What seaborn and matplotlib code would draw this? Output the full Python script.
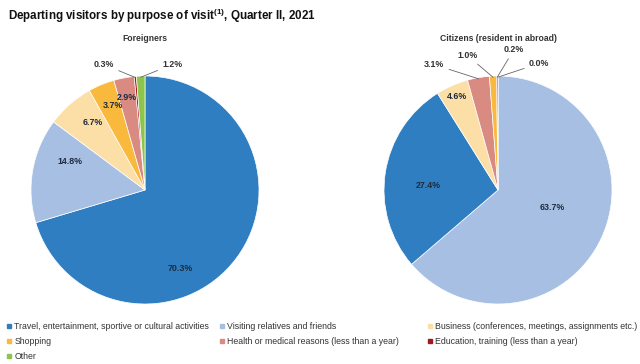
import numpy as np
import matplotlib
matplotlib.use("Agg")
import matplotlib.pyplot as plt
import seaborn as sns
from matplotlib.lines import Line2D

# Datos
categorias = [
    "Travel, entertainment, sportive or cultural activities",
    "Visiting relatives and friends",
    "Business (conferences, meetings, assignments etc.)",
    "Shopping",
    "Health or medical reasons (less than a year)",
    "Education, training (less than a year)",
    "Other",
]
colores = ["#2F7EC1", "#A7BFE3", "#FCDFA6", "#F8B93C", "#DA8B81", "#A0191E", "#8DC44B"]

# Foreigners: orden horario desde arriba
extranjeros = [70.3, 14.8, 6.7, 3.7, 2.9, 0.3, 1.2]
orden_extranjeros = [0, 1, 2, 3, 4, 5, 6]

# Citizens: orden horario desde arriba
ciudadanos = [63.7, 27.4, 4.6, 3.1, 1.0, 0.2, 0.0]
orden_ciudadanos = [1, 0, 2, 4, 3, 5, 6]

# Posiciones de etiquetas (unidades del radio) y si llevan linea guia
pos_extranjeros = [(0.31, -0.69), (-0.66, 0.25), (-0.46, 0.59), (-0.28, 0.74),
                   (-0.16, 0.81), (-0.27, 1.10), (0.15, 1.10)]
guia_extranjeros = [False, False, False, False, False, True, True]
pos_ciudadanos = [(0.48, -0.15), (-0.61, 0.04), (-0.36, 0.82), (-0.47, 1.10),
                  (-0.18, 1.18), (0.05, 1.23), (0.27, 1.11)]
guia_ciudadanos = [False, False, False, True, True, True, True]

sns.set_theme(style="white")
plt.rcParams["font.family"] = ["Liberation Sans", "DejaVu Sans"]
plt.rcParams["mathtext.fontset"] = "custom"
plt.rcParams["mathtext.rm"] = "Liberation Sans"
plt.rcParams["mathtext.bf"] = "Liberation Sans:bold"

fig = plt.figure(figsize=(6.4, 3.64), dpi=100)
fig.patch.set_facecolor("white")


def dibujar_pie(rect, valores, orden, posiciones, guias, titulo):
    ax = fig.add_axes(rect)
    cols = [colores[i] for i in orden]
    cunas, _ = ax.pie(valores, colors=cols, startangle=90, counterclock=False,
                      wedgeprops=dict(edgecolor="white", linewidth=0.5))
    ax.set_xlim(-1, 1)
    ax.set_ylim(-1, 1)
    ax.set_aspect("equal")
    for cuna, v, (x, y), g in zip(cunas, valores, posiciones, guias):
        texto = f"{v:.1f}%"
        if g:
            ang = np.deg2rad((cuna.theta1 + cuna.theta2) / 2)
            punto = (0.99 * np.cos(ang), 0.99 * np.sin(ang))
            ha = "right" if x < punto[0] else "left"
            ax.annotate(texto, xy=punto, xytext=(x, y), ha=ha, va="center",
                        fontsize=6.4, fontweight="bold", color="#333333",
                        annotation_clip=False,
                        arrowprops=dict(arrowstyle="-", color="#666666", lw=0.6,
                                        shrinkA=1, shrinkB=0))
        else:
            ax.text(x, y, texto, ha="center", va="center", fontsize=6.4,
                    fontweight="bold", color="#1F2B3E")
    ax.text(0, 1.33, titulo, ha="center", va="center", fontsize=6.2,
            fontweight="bold", color="#333333")
    return ax


dibujar_pie([31 / 640, 60 / 364, 228 / 640, 228 / 364], extranjeros,
            orden_extranjeros, pos_extranjeros, guia_extranjeros, "Foreigners")
dibujar_pie([384 / 640, 60 / 364, 228 / 640, 228 / 364], ciudadanos,
            orden_ciudadanos, pos_ciudadanos, guia_ciudadanos,
            "Citizens (resident in abroad)")

fig.text(0.012, 0.957,
         r"Departing visitors by purpose of visit$^{\mathbf{(1)}}$, Quarter II, 2021",
         fontsize=8.4, fontweight="bold", ha="left", va="center", color="#111111")

# Leyenda en tres columnas
columnas = [[0, 3, 6], [1, 4], [2, 5]]
x_cols = [0.010, 0.343, 0.668]
for idx, xc in zip(columnas, x_cols):
    manejadores = [Line2D([], [], marker="s", linestyle="", markersize=2.8,
                          color=colores[i]) for i in idx]
    fig.legend(manejadores, [categorias[i] for i in idx], loc="upper left",
               bbox_to_anchor=(xc, 0.115), frameon=False, fontsize=6.3,
               handlelength=0.6, handletextpad=0.3, labelspacing=0.67,
               borderaxespad=0, borderpad=0, labelcolor="#333333")

fig.savefig("out.png", dpi=100)
